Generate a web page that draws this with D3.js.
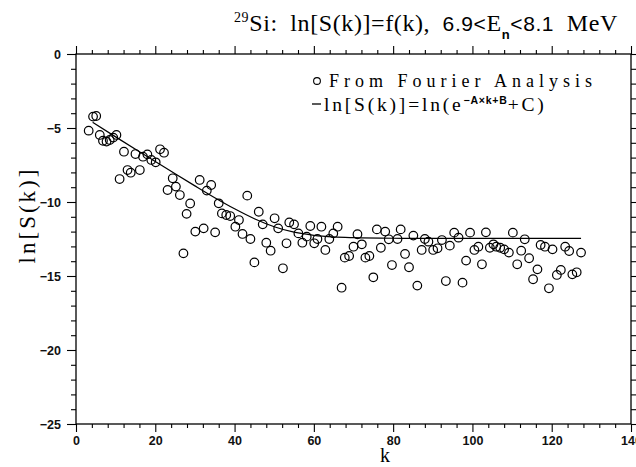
<!DOCTYPE html>
<html>
<head>
<meta charset="utf-8">
<script src="https://cdn.jsdelivr.net/npm/d3@7"></script>
<style>
  body { margin: 0; background: #fff; }
  svg { display: block; }
</style>
</head>
<body>
<div id="chart"></div>
<script>
// points: k and ln[S(k)]
var kVals = [3.2, 4.3, 5.1, 6.0, 6.8, 7.7, 8.5, 9.4, 10.2, 11.0, 12.1, 13.0, 13.8, 15.0, 16.1, 16.9, 18.0, 19.0, 20.1, 21.2,
  22.2, 23.1, 24.4, 25.2, 26.2, 27.1, 27.9, 28.8, 30.1, 31.2, 32.2, 33.0, 34.1, 35.1, 36.0, 36.8, 37.9, 38.9, 40.2, 41.1,
  42.0, 43.2, 44.0, 45.0, 46.1, 47.1, 48.0, 49.1, 50.1, 51.0, 52.2, 53.1, 53.8, 55.0, 56.1, 57.1, 58.2, 59.1, 60.1, 60.9,
  61.9, 62.9, 63.9, 64.9, 66.0, 67.0, 67.8, 68.9, 70.0, 71.0, 72.1, 73.0, 74.0, 75.0, 75.9, 76.9, 78.0, 78.9, 79.7, 81.1,
  81.9, 83.0, 84.0, 85.1, 86.1, 87.2, 88.0, 88.9, 90.1, 91.2, 92.3, 93.3, 94.3, 95.4, 96.5, 97.5, 98.4, 99.4, 100.5, 101.5,
  102.4, 103.4, 104.4, 105.3, 106.0, 107.0, 108.0, 109.2, 110.2, 111.3, 112.3, 113.2, 114.3, 115.3, 116.4, 117.2, 118.3, 119.3, 120.2, 121.3,
  122.3, 123.4, 124.4, 125.2, 126.3, 127.4];
var lnS = [-5.18, -4.23, -4.19, -5.47, -5.86, -5.92, -5.81, -5.65, -5.47, -8.45, -6.60, -7.84, -8.02, -6.76, -7.84, -6.94, -6.78, -7.16, -7.32, -6.44,
  -6.67, -9.19, -8.40, -8.96, -9.53, -13.47, -10.80, -10.10, -12.00, -8.51, -11.78, -9.23, -8.85, -12.05, -10.09, -10.77, -10.88, -10.95, -11.67, -11.22,
  -12.16, -9.57, -12.50, -14.08, -10.66, -11.51, -12.75, -13.29, -11.10, -11.78, -14.48, -12.79, -11.38, -11.51, -12.12, -12.75, -12.34, -11.62, -12.79, -12.50,
  -11.67, -13.24, -12.50, -12.12, -11.67, -15.79, -13.76, -13.65, -13.02, -12.18, -12.86, -13.76, -13.65, -15.09, -11.85, -13.09, -12.00, -12.52, -14.26, -12.50,
  -11.85, -13.51, -14.41, -12.27, -15.65, -13.24, -12.50, -12.68, -13.24, -13.13, -12.57, -15.34, -12.95, -12.07, -12.41, -15.45, -13.96, -12.07, -13.24, -13.02,
  -14.21, -12.05, -13.09, -12.86, -13.02, -13.09, -13.20, -13.42, -12.07, -14.21, -13.29, -12.52, -13.80, -15.22, -14.55, -12.90, -13.02, -15.83, -13.20, -14.93,
  -14.59, -13.02, -13.31, -14.89, -14.75, -13.42];

// fitted curve
var fitK = [4.2, 10, 16, 20, 25, 30, 35, 40, 45, 50, 55, 60, 65, 70, 80, 90, 100, 110, 120, 127.4];
var fitV = [-4.62, -5.60, -6.60, -7.26, -8.09, -8.91, -9.71, -10.46, -11.13, -11.67, -12.04, -12.25, -12.36, -12.41, -12.45, -12.46, -12.46, -12.46, -12.46, -12.46];

var xMajor = [0, 20, 40, 60, 80, 100, 120, 140];
var yMajor = [0, -5, -10, -15, -20, -25];

var margin = {top: 54, right: 5, bottom: 43, left: 76},
  width = 636 - margin.left - margin.right,
  height = 467 - margin.top - margin.bottom;

var root = d3.select("#chart")
  .append("svg")
    .attr("width", 636)
    .attr("height", 467);

var svg = root.append("g")
    .attr("transform", "translate(" + margin.left + "," + margin.top + ")");

var x = d3.scaleLinear().domain([0, 140]).range([0, width]);
var y = d3.scaleLinear().domain([-25, 0]).range([height, 0]);

var xMinor = d3.range(0, 141, 4).filter(function(d) { return d % 20 !== 0; });
var yMinor = d3.range(-25, 1, 1).filter(function(d) { return d % 5 !== 0; });

var fmt = function(d) { return d < 0 ? "\u2212" + Math.abs(d) : d; };

function styleAxis(g) {
  g.select(".domain").remove();
  g.selectAll("line").attr("stroke", "#000").attr("stroke-width", 1.1);
  g.selectAll("text")
    .style("font-family", "Liberation Sans, Arial, sans-serif")
    .style("font-size", "12.5px")
    .style("font-weight", "bold")
    .attr("fill", "#111");
}

// bottom
svg.append("g").attr("transform", "translate(0," + height + ")")
  .call(d3.axisBottom(x).tickValues(xMajor).tickSize(8).tickPadding(4).tickFormat(fmt)).call(styleAxis);
svg.append("g").attr("transform", "translate(0," + height + ")")
  .call(d3.axisBottom(x).tickValues(xMinor).tickSize(4).tickFormat("")).call(styleAxis);
// top
svg.append("g")
  .call(d3.axisTop(x).tickValues(xMajor).tickSize(8).tickFormat("")).call(styleAxis);
svg.append("g")
  .call(d3.axisTop(x).tickValues(xMinor).tickSize(4).tickFormat("")).call(styleAxis);
// left
svg.append("g")
  .call(d3.axisLeft(y).tickValues(yMajor).tickSize(9).tickPadding(6).tickFormat(fmt)).call(styleAxis);
svg.append("g")
  .call(d3.axisLeft(y).tickValues(yMinor).tickSize(5).tickFormat("")).call(styleAxis);
// right
svg.append("g").attr("transform", "translate(" + width + ",0)")
  .call(d3.axisRight(y).tickValues(yMajor).tickSize(9).tickFormat("")).call(styleAxis);
svg.append("g").attr("transform", "translate(" + width + ",0)")
  .call(d3.axisRight(y).tickValues(yMinor).tickSize(5).tickFormat("")).call(styleAxis);

// frame
svg.append("rect")
  .attr("width", width)
  .attr("height", height)
  .attr("fill", "none")
  .attr("stroke", "#000")
  .attr("stroke-width", 1.3);

// fit line
var fitData = fitK.map(function(k, i) { return {k: k, v: fitV[i]}; });
svg.append("path")
  .datum(fitData)
  .attr("fill", "none")
  .attr("stroke", "#000")
  .attr("stroke-width", 1.2)
  .attr("d", d3.line()
    .x(function(d) { return x(d.k); })
    .y(function(d) { return y(d.v); })
    .curve(d3.curveMonotoneX));

// points
var pts = kVals.map(function(k, i) { return {k: k, v: lnS[i]}; });
svg.selectAll("circle.pt")
  .data(pts)
  .enter()
  .append("circle")
    .attr("class", "pt")
    .attr("cx", function(d) { return x(d.k); })
    .attr("cy", function(d) { return y(d.v); })
    .attr("r", 4.3)
    .attr("fill", "none")
    .attr("stroke", "#000")
    .attr("stroke-width", 1.2);

// title
var serif = "Liberation Serif, Times New Roman, serif";
var sans = "Liberation Sans, Arial, sans-serif";
var title = root.append("text")
  .attr("x", 234)
  .attr("y", 31)
  .style("font-family", serif)
  .style("font-size", "24px")
  .style("letter-spacing", "0.6px")
  .attr("fill", "#000");
title.append("tspan").text("29").style("font-size", "14px").attr("dy", -9);
title.append("tspan").text("Si:").attr("dy", 9);
title.append("tspan").text("\u00a0ln[S(k)]=f(k),").attr("dx", 6);
title.append("tspan").text("\u00a06.9<").style("font-family", sans).style("font-size", "21px").attr("dx", 6);
title.append("tspan").text("E");
title.append("tspan").text("n").style("font-family", sans).style("font-size", "13px").style("font-weight", "bold").attr("dy", 8);
title.append("tspan").text("<8.1").style("font-family", sans).style("font-size", "21px").attr("dy", -8);
title.append("tspan").text("\u00a0MeV").attr("dx", 6);

// legend
root.append("circle")
  .attr("cx", 317).attr("cy", 81).attr("r", 3.4)
  .attr("fill", "none").attr("stroke", "#000").attr("stroke-width", 1.1);
root.append("text")
  .attr("x", 329).attr("y", 87)
  .style("font-family", serif)
  .style("font-size", "18px")
  .style("letter-spacing", "5px")
  .text("From Fourier Analysis");
root.append("line")
  .attr("x1", 312).attr("x2", 321).attr("y1", 104).attr("y2", 104)
  .attr("stroke", "#000").attr("stroke-width", 1.3);
var leg2 = root.append("text")
  .attr("x", 324).attr("y", 111)
  .style("font-family", serif)
  .style("font-size", "19.5px")
  .style("letter-spacing", "2.8px");
leg2.append("tspan").text("ln[S(k)]=ln(e");
leg2.append("tspan").text("\u2212A\u00d7k+B").style("font-family", sans).style("font-size", "10.5px").style("font-weight", "bold").style("letter-spacing", "0.8px").attr("dy", -7);
leg2.append("tspan").text("+C)").attr("dy", 7);

// axis titles
root.append("text")
  .attr("x", 385).attr("y", 462)
  .attr("text-anchor", "middle")
  .style("font-family", serif)
  .style("font-size", "20px")
  .text("k");

root.append("text")
  .attr("transform", "translate(35,215) rotate(-90)")
  .attr("text-anchor", "middle")
  .style("font-family", serif)
  .style("font-size", "23px")
  .style("letter-spacing", "3px")
  .text("ln[S(k)]");
</script>
</body>
</html>
